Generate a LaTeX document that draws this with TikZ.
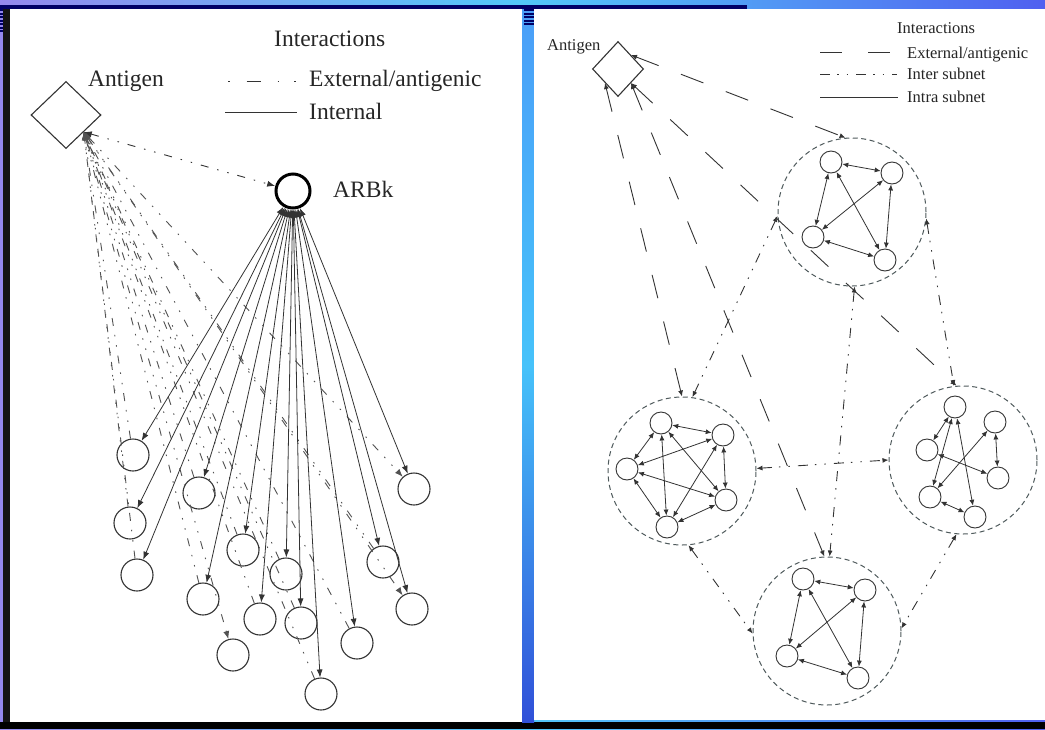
\documentclass[tikz,border=0pt]{standalone}
\usepackage{fontspec}
\setmainfont{Liberation Serif}
\usetikzlibrary{arrows.meta,shapes.geometric}
\definecolor{bgL}{HTML}{9488EE}
\definecolor{bgM}{HTML}{52C8F8}
\definecolor{bgR}{HTML}{5060F0}
\definecolor{stripT}{HTML}{4A9EF8}
\definecolor{stripM}{HTML}{46C2FA}
\definecolor{stripB}{HTML}{3050D8}
\definecolor{navy}{HTML}{000066}
\definecolor{ink}{HTML}{333333}
\definecolor{ringgray}{HTML}{4F5A5C}
\tikzset{
  leaf/.style={circle,draw=ink,line width=1.1pt,minimum size=32pt,inner sep=0pt},
  arbk/.style={circle,draw=black,line width=3pt,minimum size=34pt,inner sep=0pt},
  agbox/.style={diamond,draw=ink,line width=1.1pt,inner sep=0pt},
  sub/.style={circle,draw=ringgray,line width=1pt,dash pattern=on 5pt off 3.5pt,minimum size=148pt,inner sep=0pt},
  cell/.style={circle,draw=ink,line width=0.9pt,minimum size=22pt,inner sep=0pt},
  intl/.style={draw=ink,line width=0.8pt},
  extl/.style={draw=ink!85,line width=0.9pt,dash pattern=on 8pt off 9pt on 1.5pt off 9pt on 1.5pt off 9pt},
  extlegend/.style={draw=ink,line width=0.9pt,dash pattern=on 1.5pt off 17pt on 14pt off 17pt on 1.5pt off 15pt on 1.5pt off 20pt},
  extr/.style={draw=ink,line width=0.9pt,dash pattern=on 24pt off 24pt},
  inter/.style={draw=ink,line width=0.9pt,dash pattern=on 10pt off 7pt on 1.5pt off 8pt on 1.5pt off 8pt},
  intra/.style={draw=ink,line width=0.8pt},
  bigtxt/.style={font=\fontsize{23.5}{27}\selectfont,text=black!85,inner sep=0pt},
  smalltxt/.style={font=\fontsize{16.5}{19}\selectfont,text=black!85,inner sep=0pt},
}
\begin{document}
\begin{tikzpicture}[x=1pt,y=-1pt]
\useasboundingbox (0,0) rectangle (1045,729);
% background
\shade[left color=bgL,right color=bgR,middle color=bgM] (0,0) rectangle (1045,729);
\fill[navy] (0,5) rectangle (747,8.5);
\fill[black!92] (3,9) rectangle (10,729);
\fill[black] (0,722) rectangle (1045,729);
\shade[top color=stripT,bottom color=stripB,middle color=stripM] (522,9) rectangle (534,722);
\foreach \yy in {9,12.5,...,24} \fill[navy] (524,\yy) rectangle (534,\yy+2);
\foreach \yy in {9,12.5,...,30} \fill[navy] (0,\yy) rectangle (3,\yy+2);
\fill[white] (10,9) rectangle (522,722);
\fill[white] (534,9) rectangle (1045,720);

% ================= LEFT PANEL =================
\begin{scope}[>={Latex[length=8pt,width=6pt]}]
\node[bigtxt,anchor=base west] (tIntL) at (274,46) {Interactions};
\node[bigtxt,anchor=base west] (tAgL) at (88,86) {Antigen};
\node[bigtxt,anchor=base west] (tExtL) at (309,86) {External/antigenic};
\node[bigtxt,anchor=base west] (tInL) at (309,119) {Internal};
\node[bigtxt,anchor=base west] (tARB) at (333,197) {ARBk};
\draw[extlegend] (228,81) -- (298,81);
\draw[intl,line width=1pt] (225,112) -- (297,112);

\node[agbox,minimum width=70pt,minimum height=67pt] (ag) at (66,115) {};
\node[arbk] (arb) at (293,191) {};

\node[leaf] (l1) at (133,455) {};
\node[leaf] (l2) at (130,523) {};
\node[leaf] (l3) at (137,575) {};
\node[leaf] (l4) at (199,493) {};
\node[leaf] (l5) at (203,599) {};
\node[leaf] (l6) at (233,655) {};
\node[leaf] (l7) at (243,550) {};
\node[leaf] (l8) at (260,619) {};
\node[leaf] (l9) at (286,574) {};
\node[leaf] (l10) at (301,623) {};
\node[leaf] (l11) at (321,694) {};
\node[leaf] (l12) at (357,643) {};
\node[leaf] (l13) at (383,562) {};
\node[leaf] (l14) at (412,609) {};
\node[leaf] (l15) at (414,489) {};

\foreach \i in {1,2,3,4,5,7,8,9,10,11,12,13} \draw[extl,->] (l\i) -- (ag.south east);
\foreach \i in {6,14,15} \draw[extl,<->] (ag.south east) -- (l\i);
\foreach \i in {1,2,3,4,5,7,8,9,10,11,12,13,14,15} \draw[intl,<->] (arb) -- (l\i);
\draw[extl,draw=ink,<->] (ag.south east) -- (arb);
\end{scope}

% ================= RIGHT PANEL =================
\begin{scope}[>={Latex[length=6pt,width=5pt]}]
\node[smalltxt,anchor=base west] (tIntR) at (897,33) {Interactions};
\node[smalltxt,anchor=base west] (tAgR) at (547,50) {Antigen};
\node[smalltxt,anchor=base west] (tExtR) at (907,58) {External/antigenic};
\node[smalltxt,anchor=base west] (tInterR) at (907,79) {Inter subnet};
\node[smalltxt,anchor=base west] (tIntraR) at (907,102) {Intra subnet};
\draw[extr,dash pattern=on 22pt off 26pt] (820,52) -- (892,52);
\draw[inter] (820,74) -- (897,74);
\draw[intra] (820,97) -- (898,97);

\node[agbox,minimum width=51pt,minimum height=55pt] (ag2) at (618,69) {};

\node[sub] (A) at (852,212) {};
\node[sub] (B) at (682,471) {};
\node[sub] (C) at (963,460) {};
\node[sub] (D) at (827,631) {};

% subnet A
\node[cell] (a1) at (831,162) {};
\node[cell] (a2) at (892,173) {};
\node[cell] (a3) at (813,237) {};
\node[cell] (a4) at (885,260) {};
% subnet B
\node[cell] (b1) at (661,423) {};
\node[cell] (b2) at (723,435) {};
\node[cell] (b3) at (627,469) {};
\node[cell] (b4) at (726,500) {};
\node[cell] (b5) at (667,527) {};
% subnet C
\node[cell] (c1) at (955,407) {};
\node[cell] (c2) at (995,422) {};
\node[cell] (c3) at (927,450) {};
\node[cell] (c4) at (998,478) {};
\node[cell] (c5) at (930,497) {};
\node[cell] (c6) at (975,517) {};
% subnet D
\node[cell] (d1) at (803,579) {};
\node[cell] (d2) at (865,590) {};
\node[cell] (d3) at (787,656) {};
\node[cell] (d4) at (858,678) {};

\foreach \p/\q in {a1/a2,a1/a3,a1/a4,a2/a3,a2/a4,a3/a4,
  b1/b2,b1/b3,b1/b4,b1/b5,b2/b3,b2/b4,b2/b5,b3/b4,b3/b5,b4/b5,
  c1/c3,c1/c5,c1/c6,c2/c4,c2/c5,c3/c4,c5/c6,
  d1/d2,d1/d3,d1/d4,d2/d3,d2/d4,d3/d4}
  \draw[intra,<->] (\p) -- (\q);

% inter subnet
\draw[inter,<->] (A.183) -- (B.82);
\draw[inter,<->] (A.-5) -- (C.97);
\draw[inter,<->] (A.-88) -- (D.88);
\draw[inter,<->] (B.2) -- (C.180);
\draw[inter,<->] (B.-85) -- (D.182);
\draw[inter,<->] (C.-95) -- (D.2);

% external / antigenic
\draw[extr,<->] (ag2.north east) -- (A.95);
\draw[extr,<->] (ag2.south west) -- (B.90);
\draw[extr,<->] (ag2.south east) -- (C.95);
\draw[extr,<->] (ag2.south east) -- (D.92);
\end{scope}
\end{tikzpicture}
\end{document}
